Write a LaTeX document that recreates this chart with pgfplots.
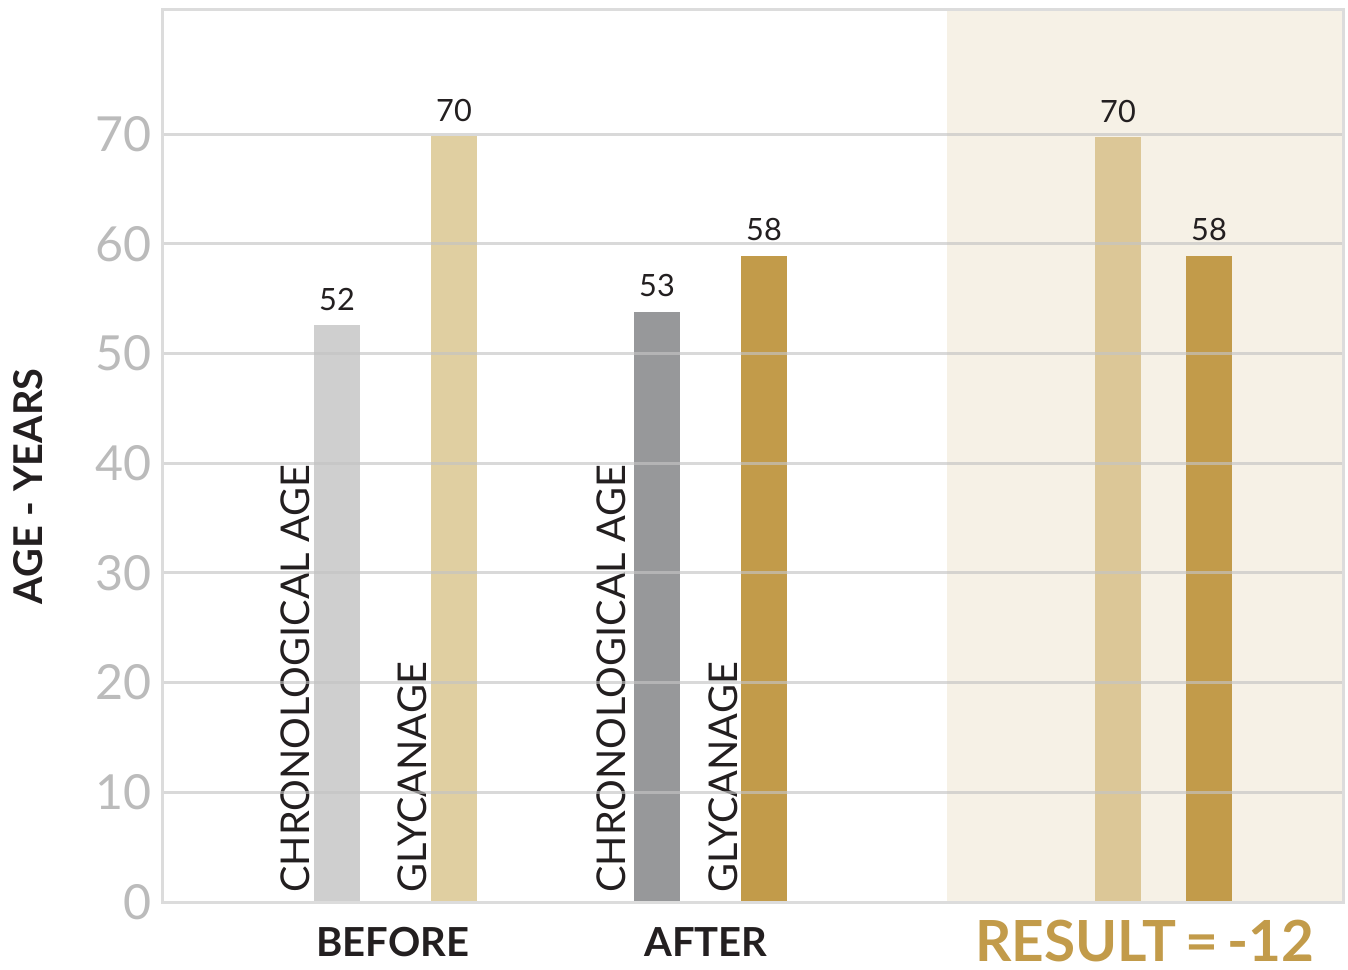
\documentclass[border=0pt]{standalone}
\usepackage{fontspec}
\setmainfont{Lato}
\usepackage{pgfplots}
\pgfplotsset{compat=1.18}
\definecolor{cBC}{HTML}{CFCFCF}
\definecolor{cBG}{HTML}{E0CFA1}
\definecolor{cAC}{HTML}{97989A}
\definecolor{cAG}{HTML}{C29B4A}
\definecolor{cRL}{HTML}{DCC797}
\definecolor{cRD}{HTML}{C29B4A}
\definecolor{shade}{HTML}{F6F1E6}
\definecolor{gridc}{HTML}{C4C4C4}
\definecolor{framec}{HTML}{DCDCDC}
\definecolor{tickc}{HTML}{BBBBBB}
\definecolor{txt}{HTML}{231F20}
\begin{document}
\begin{tikzpicture}
\begin{axis}[
  name=ax,
  scale only axis,
  width=354pt, height=267.9pt,
  xmin=163, xmax=1343,
  ymin=0, ymax=81.4,
  xtick=\empty,
  ytick={0,10,...,70},
  major tick length=0pt,
  ymajorgrids,
  major grid style={draw=gridc, opacity=0.65, line width=0.9pt},
  axis line style={draw=framec, line width=0.9pt},
  axis on top,
  clip=false,
  /pgf/number format/assume math mode=true,
  yticklabel style={font=\fontsize{14.5}{16}\selectfont, text=tickc, inner sep=0pt, xshift=-3.3pt},
  ybar, bar width=46, bar shift=0pt,
  nodes near coords,
  point meta=explicit symbolic,
  every node near coord/.append style={font=\fontsize{9.2}{11}\selectfont, text=txt, anchor=south, inner sep=0pt, yshift=4.2pt},
]
\addplot[fill=shade, draw=none, bar width=396, nodes near coords=\empty, forget plot] coordinates {(1145,81.4) []};
\addplot[fill=cBC, draw=none] coordinates {(337,52.6) [52]};
\addplot[fill=cBG, draw=none] coordinates {(454,69.8) [70]};
\addplot[fill=cAC, draw=none] coordinates {(657,53.8) [53]};
\addplot[fill=cAG, draw=none] coordinates {(764,58.9) [58]};
\addplot[fill=cRL, draw=none] coordinates {(1118,69.7) [70]};
\addplot[fill=cRD, draw=none] coordinates {(1209,58.9) [58]};

\node[rotate=90, anchor=base west, inner sep=0pt, font=\fontsize{11.9}{14}\selectfont, text=txt] at (axis cs:309,0.8) {CHRONOLOGICAL AGE};
\node[rotate=90, anchor=base west, inner sep=0pt, font=\fontsize{11.9}{14}\selectfont, text=txt] at (axis cs:426,0.8) {GLYCANAGE};
\node[rotate=90, anchor=base west, inner sep=0pt, font=\fontsize{11.9}{14}\selectfont, text=txt] at (axis cs:625,0.8) {CHRONOLOGICAL AGE};
\node[rotate=90, anchor=base west, inner sep=0pt, font=\fontsize{11.9}{14}\selectfont, text=txt] at (axis cs:737,0.8) {GLYCANAGE};

\node[anchor=base, inner sep=0pt, font=\bfseries\fontsize{12}{14}\selectfont, text=txt] at (axis cs:393,-5.0) {BEFORE};
\node[anchor=base, inner sep=0pt, font=\bfseries\fontsize{12}{14}\selectfont, text=txt] at (axis cs:706,-5.0) {AFTER};
\node[anchor=base, inner sep=0pt, font=\bfseries\fontsize{17}{19}\selectfont, text=cRD] at (axis cs:1145,-5.45) {RESULT\,=\,-12};
\node[rotate=90, anchor=center, inner sep=0pt, font=\bfseries\fontsize{11.9}{14}\selectfont, text=txt] at (axis cs:28,37.9) {AGE - YEARS};
\end{axis}
\pgfresetboundingbox
\path ([xshift=-48.9pt,yshift=-20.1pt]ax.south west) rectangle ([xshift=1.5pt,yshift=2.7pt]ax.north east);
\end{tikzpicture}
\end{document}
